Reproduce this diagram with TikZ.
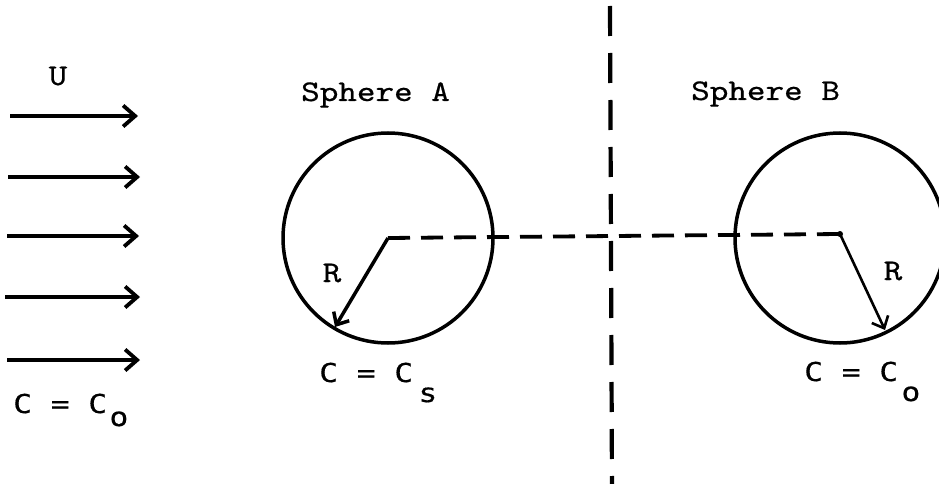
\documentclass[tikz,border=0pt]{standalone}
\usepackage{fontspec}
\setmonofont{lmmono10-regular.otf}[FakeStretch=1.18,FakeBold=0.6]
\newfontfamily\cfont[FakeStretch=1.2,FakeBold=0.6]{DejaVu Sans Mono}
\usetikzlibrary{arrows.meta}
\begin{document}
\begin{tikzpicture}[x=1pt,y=-1pt,
  lbl/.style={font=\fontsize{30}{30}\selectfont\ttfamily, inner sep=0pt, anchor=base west},
  clbl/.style={font=\fontsize{26}{26}\selectfont\cfont, inner sep=0pt, anchor=base west},
  flow/.style={line width=3.8pt, -{Straight Barb[length=12pt,width=21pt]}},
  sphere/.style={draw, circle, line width=3.5pt, minimum size=210pt, inner sep=0pt},
  radarrow/.style={line width=3.5pt, -{Straight Barb[length=10pt,width=18pt]}},
  hdash/.style={line width=3.8pt, dash pattern=on 22pt off 11pt},
  vdash/.style={line width=4.2pt, dash pattern=on 30pt off 17pt},
  ]
\useasboundingbox (0,0) rectangle (939,484);
% flow arrows
\foreach \i/\y/\xa/\xb in {1/116/10/138, 2/177/8/140, 3/236/7/139, 4/297/5/140, 5/360/7/140} {
  \coordinate (fs\i) at (\xa,\y);
  \coordinate (fe\i) at (\xb,\y);
  \draw[flow] (fs\i) -- (fe\i);
}
\node[lbl, anchor=base] (u) at (58,85) {U};
\node[clbl] (cl) at (13,413) {C = C};
\node[clbl] (cls) at ([xshift=2pt,yshift=-13pt]cl.base east) {o};
% sphere A
\node[sphere] (sa) at (388,238) {};
\coordinate (ca) at (388,238);
\coordinate (ra) at (335,327);
\node[lbl] (ta) at (301,101) {Sphere A};
\node[lbl, anchor=base] (rla) at (332,282) {R};
\node[clbl] (csa) at (319,382) {C = C};
\node[clbl] (csas) at ([xshift=5pt,yshift=-20pt]csa.base east) {s};
% sphere B
\node[sphere] (sb) at (840,238) {};
\coordinate (cb) at (840,234);
\coordinate (rb) at (885,330);
\node[lbl] (tb) at (691,100) {Sphere B};
\node[lbl, anchor=base] (rlb) at (893,280) {R};
\node[clbl] (csb) at (804,381) {C = C};
\node[clbl] (csbs) at ([xshift=3pt,yshift=-20pt]csb.base east) {o};
% connectors
\draw[hdash] (ca) -- (cb);
\draw[radarrow] (ca) -- (ra);
\fill (cb) circle (3pt);
\draw[radarrow, line width=2.6pt] (cb) -- (rb);
\coordinate (vtop) at (610,6);
\coordinate (vbot) at (612,490);
\draw[vdash] (vtop) -- (vbot);
\end{tikzpicture}
\end{document}
